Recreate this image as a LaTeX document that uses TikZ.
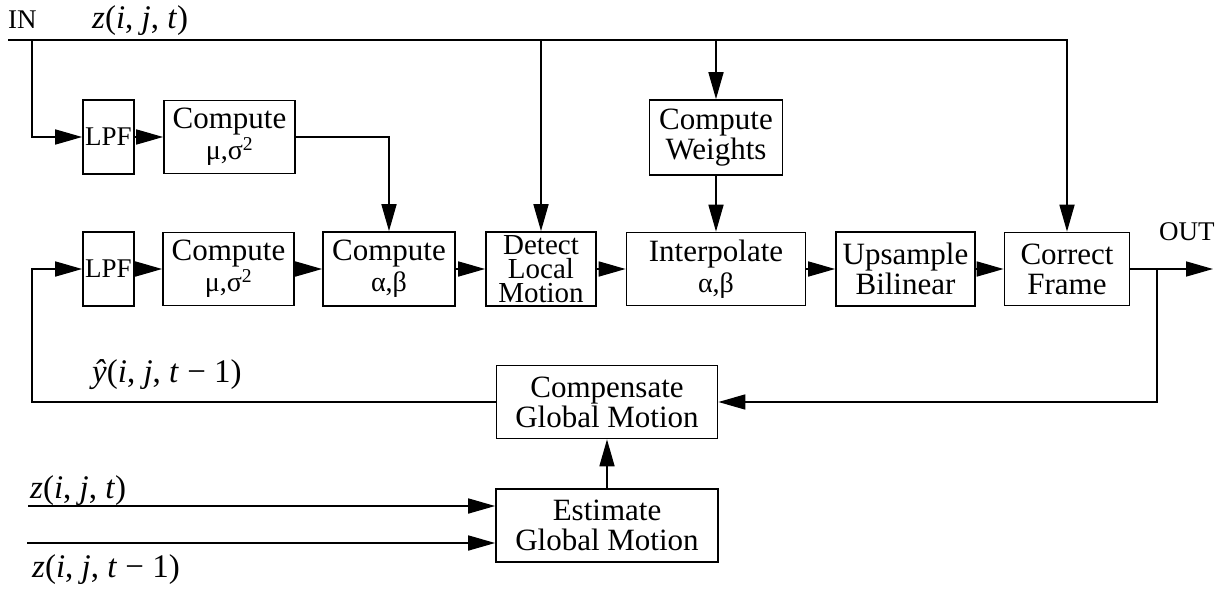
\documentclass[tikz,border=0pt]{standalone}
\usepackage{fontspec}
\setmainfont{Liberation Serif}
\usetikzlibrary{arrows.meta}
\begin{document}
\begin{tikzpicture}[x=1pt,y=-1pt,
  box/.style={draw, line width=1.7pt, rectangle, inner sep=0pt, align=center, font=\fontsize{31}{30}\selectfont},
  arr/.style={-{Triangle[length=27pt,width=15pt]}, line width=1.7pt},
  lbl/.style={inner sep=0pt, anchor=base west, font=\fontsize{27}{27}\selectfont},
  zl/.style={inner sep=0pt, anchor=base west, font=\fontsize{33}{33}\selectfont}]
\useasboundingbox (0,0) rectangle (1223,592);

% boxes
\node[box, minimum width=51pt, minimum height=74pt, font=\fontsize{27}{27}\selectfont] (lpfA) at (108.5,137) {LPF};
\node[box, minimum width=131pt, minimum height=73pt] (cmpA) at (229.5,137) {Compute\\[1pt]{\fontsize{28}{28}\selectfont μ,σ\textsuperscript{2}}};
\node[box, minimum width=51pt, minimum height=74pt, font=\fontsize{27}{27}\selectfont] (lpfB) at (108.5,269) {LPF};
\node[box, minimum width=131pt, minimum height=73pt] (cmpB) at (228.5,269) {Compute\\[1pt]{\fontsize{28}{28}\selectfont μ,σ\textsuperscript{2}}};
\node[box, minimum width=132pt, minimum height=74pt] (cab) at (389,269) {Compute\\[1pt]{\fontsize{28}{28}\selectfont α,β}};
\node[box, minimum width=110pt, minimum height=74pt, font=\fontsize{29}{24}\selectfont] (det) at (541,269) {Detect\\Local\\Motion};
\node[box, minimum width=179pt, minimum height=73pt] (interp) at (716,269) {Interpolate\\[1pt]{\fontsize{28}{28}\selectfont α,β}};
\node[box, minimum width=139pt, minimum height=74pt] (ups) at (905.5,269) {Upsample\\Bilinear};
\node[box, minimum width=125pt, minimum height=73pt] (corr) at (1067,269) {Correct\\Frame};
\node[box, minimum width=133pt, minimum height=75pt] (wts) at (716,137.5) {Compute\\Weights};
\node[box, minimum width=221pt, minimum height=73pt] (comp) at (607,402) {Compensate\\Global Motion};
\node[box, minimum width=222pt, minimum height=73pt] (est) at (607,525.5) {Estimate\\Global Motion};

% coordinates
\coordinate (inL) at (8,40);
\coordinate (tapA) at (32,40);
\coordinate (outR) at (1213,269);
\coordinate (tapO) at (1157,269);
\coordinate (fb) at (32,402);
\coordinate (zin1) at (28,506);
\coordinate (zin2) at (27,543);

% connectors
\draw[arr] (inL) -| (corr.north);
\draw[arr] (tapA) |- (lpfA.west);
\draw[arr] (det.north |- inL) -- (det.north);
\draw[arr] (wts.north |- inL) -- (wts.north);
\draw[arr] (wts.south) -- (interp.north);
\draw[arr] (lpfA) -- (cmpA);
\draw[arr] (cmpA.east) -| (cab.north);
\draw[arr] (lpfB) -- (cmpB);
\draw[arr] (cmpB) -- (cab);
\draw[arr] (cab) -- (det);
\draw[arr] (det) -- (interp);
\draw[arr] (interp) -- (ups);
\draw[arr] (ups) -- (corr);
\draw[arr] (corr.east) -- (outR);
\draw[arr] (tapO) |- (comp.east);
\draw[arr] (comp.west) -- (fb) |- (lpfB.west);
\draw[arr] (est.north) -- (comp.south);
\draw[arr] (zin1) -- (zin1 -| est.west);
\draw[arr] (zin2) -- (zin2 -| est.west);

% labels
\node[lbl] (inlbl) at (8,28) {IN};
\node[zl] (ztop) at (92,28) {\textit{z}(\textit{i}, \textit{j}, \textit{t})};
\node[lbl] (outlbl) at (1159,240) {OUT};
\node[zl] (yhat) at (92,382) {\textit{ŷ}(\textit{i}, \textit{j}, \textit{t} − 1)};
\node[zl] (zb1) at (30,498) {\textit{z}(\textit{i}, \textit{j}, \textit{t})};
\node[zl] (zb2) at (32,577) {\textit{z}(\textit{i}, \textit{j}, \textit{t} − 1)};
\end{tikzpicture}
\end{document}
